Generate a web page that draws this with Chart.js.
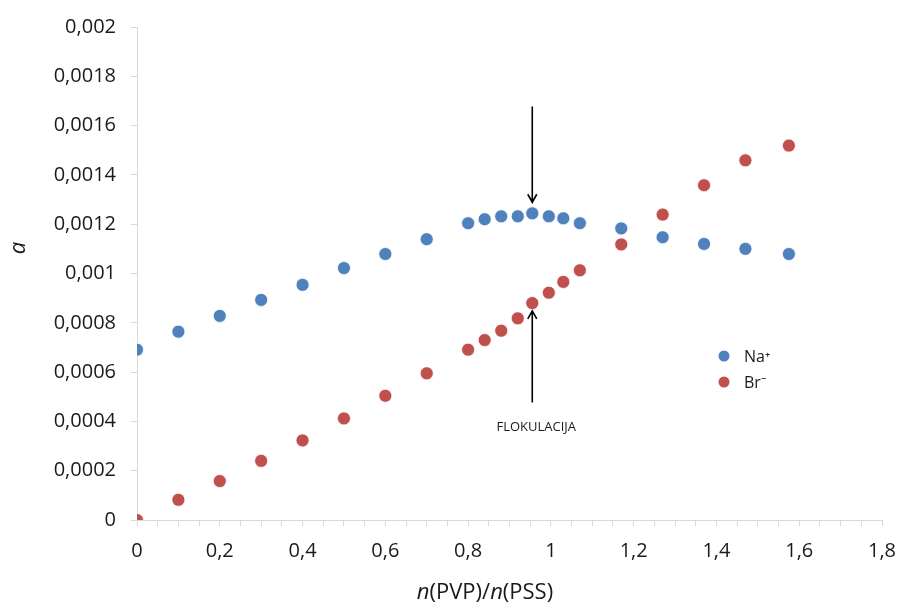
<!DOCTYPE html>
<html>
<head>
<meta charset="utf-8">
<script src="https://cdn.jsdelivr.net/npm/chart.js@4.4.0/dist/chart.umd.min.js"></script>
<style>
  html, body { margin: 0; padding: 0; background: #fff; }
  #wrap { width: 904px; height: 606px; position: relative; }
</style>
</head>
<body>
<div id="wrap"><canvas id="flocChart"></canvas></div>
<script>
// ===================== podaci =====================
const ratioX = [0, 0.1, 0.2, 0.3, 0.4, 0.5, 0.6, 0.7, 0.8, 0.84, 0.88, 0.92, 0.955, 0.995, 1.03, 1.07, 1.17, 1.27, 1.37, 1.47, 1.575];
const naValues = [0.000691, 0.000764, 0.000828, 0.000893, 0.000954, 0.001022, 0.001079, 0.001139, 0.001204, 0.00122, 0.001232, 0.001232, 0.001244, 0.001232, 0.001224, 0.001204, 0.001183, 0.001147, 0.00112, 0.0011, 0.001079];
const brValues = [0, 0.000082, 0.000158, 0.00024, 0.000323, 0.000412, 0.000504, 0.000595, 0.000691, 0.00073, 0.000768, 0.000818, 0.00088, 0.000922, 0.000966, 0.001013, 0.001118, 0.001239, 0.001358, 0.001459, 0.001519];
const seriesNames = ['Na\u207A', 'Br\u207B'];
const seriesColors = ['#4F81BD', '#C0504D'];

// strelice (u koordinatama podataka): x, y od, y do
const flocX = 0.955;
const arrowDown = [0.001677, 0.001289];
const arrowUp = [0.000477, 0.000848];
const flocLabel = 'FLOKULACIJA';
const flocLabelY = 0.000376;

const FONT = "'Open Sans', 'Liberation Sans', sans-serif";

function toPoints(xs, ys) {
  return xs.map((x, i) => ({ x: x, y: ys[i] }));
}

function commaNum(v, digits) {
  return String(Number(v.toFixed(digits))).replace('.', ',');
}

function drawArrow(ctx, x, y1, y2) {
  const dir = y2 > y1 ? 1 : -1;
  ctx.beginPath();
  ctx.moveTo(x, y1);
  ctx.lineTo(x, y2);
  ctx.moveTo(x - 4.5, y2 - dir * 8);
  ctx.lineTo(x, y2);
  ctx.lineTo(x + 4.5, y2 - dir * 8);
  ctx.stroke();
}

// ===================== dodatni crtež =====================
const extrasPlugin = {
  id: 'extras',
  afterDraw(chart) {
    const { ctx, scales: { x, y } } = chart;
    ctx.save();

    // strelice
    ctx.strokeStyle = '#000';
    ctx.lineWidth = 1.6;
    const ax = x.getPixelForValue(flocX);
    drawArrow(ctx, ax, y.getPixelForValue(arrowDown[0]), y.getPixelForValue(arrowDown[1]));
    drawArrow(ctx, ax, y.getPixelForValue(arrowUp[0]), y.getPixelForValue(arrowUp[1]));

    ctx.fillStyle = '#1a1a1a';
    ctx.font = '13px ' + FONT;
    ctx.textAlign = 'center';
    ctx.textBaseline = 'middle';
    ctx.fillText(flocLabel, ax + 4, y.getPixelForValue(flocLabelY));

    // legenda
    ctx.font = '16px ' + FONT;
    ctx.textAlign = 'left';
    seriesNames.forEach((name, i) => {
      const ly = 356 + i * 26;
      ctx.fillStyle = seriesColors[i];
      ctx.beginPath();
      ctx.arc(724, ly, 5.5, 0, Math.PI * 2);
      ctx.fill();
      ctx.fillStyle = '#1a1a1a';
      ctx.fillText(name, 744, ly + 1);
    });

    // naslov osi x: n(PVP)/n(PSS), n u kurzivu
    const parts = [['n', true], ['(PVP)/', false], ['n', true], ['(PSS)', false]];
    const size = 22;
    let total = 0;
    parts.forEach(p => {
      ctx.font = (p[1] ? 'italic ' : '') + size + 'px ' + FONT;
      total += ctx.measureText(p[0]).width;
    });
    let tx = 485 - total / 2;
    parts.forEach(p => {
      ctx.font = (p[1] ? 'italic ' : '') + size + 'px ' + FONT;
      ctx.fillText(p[0], tx, 593);
      tx += ctx.measureText(p[0]).width;
    });

    // naslov osi y
    ctx.translate(19, 248);
    ctx.rotate(-Math.PI / 2);
    ctx.textAlign = 'center';
    ctx.font = 'italic 22px ' + FONT;
    ctx.fillText('a', 0, 0);

    ctx.restore();
  }
};

// ===================== graf =====================
function renderFlocChart() {
  const canvas = document.getElementById('flocChart');
  if (!canvas) return;
  const ctx = canvas.getContext('2d');

  new Chart(ctx, {
    type: 'scatter',
    data: {
      datasets: [
        {
          label: seriesNames[0],
          data: toPoints(ratioX, naValues),
          backgroundColor: seriesColors[0],
          borderColor: 'rgba(255,255,255,0.7)',
          borderWidth: 1,
          pointRadius: 6.5,
          pointHoverRadius: 6.5
        },
        {
          label: seriesNames[1],
          data: toPoints(ratioX, brValues),
          backgroundColor: seriesColors[1],
          borderColor: 'rgba(255,255,255,0.7)',
          borderWidth: 1,
          pointRadius: 6.5,
          pointHoverRadius: 6.5
        }
      ]
    },
    options: {
      responsive: true,
      maintainAspectRatio: false,
      animation: false,
      layout: { padding: { top: 25, right: 22, left: 0, bottom: 0 } },
      plugins: {
        legend: { display: false },
        tooltip: { enabled: false }
      },
      scales: {
        x: {
          type: 'linear',
          min: 0,
          max: 1.8,
          afterFit: s => { s.height = 86; s.paddingRight = 0; },
          ticks: {
            stepSize: 0.05,
            autoSkip: false,
            maxRotation: 0,
            padding: 13,
            color: '#1a1a1a',
            font: { family: FONT, size: 20 },
            callback: v => Math.abs(v * 5 - Math.round(v * 5)) < 1e-6 ? commaNum(v, 1) : ''
          },
          grid: { drawOnChartArea: false, tickLength: 6, color: '#d9d9d9' },
          border: { color: '#d9d9d9' }
        },
        y: {
          min: 0,
          max: 0.002,
          afterFit: s => { s.width = 137; },
          ticks: {
            stepSize: 0.0002,
            autoSkip: false,
            padding: 15,
            color: '#1a1a1a',
            font: { family: FONT, size: 20 },
            callback: v => commaNum(v, 4)
          },
          grid: { drawOnChartArea: false, tickLength: 6, color: '#d9d9d9' },
          border: { color: '#d9d9d9' }
        }
      }
    },
    plugins: [extrasPlugin]
  });
}

document.addEventListener('DOMContentLoaded', () => {
  renderFlocChart();
});
</script>
</body>
</html>
